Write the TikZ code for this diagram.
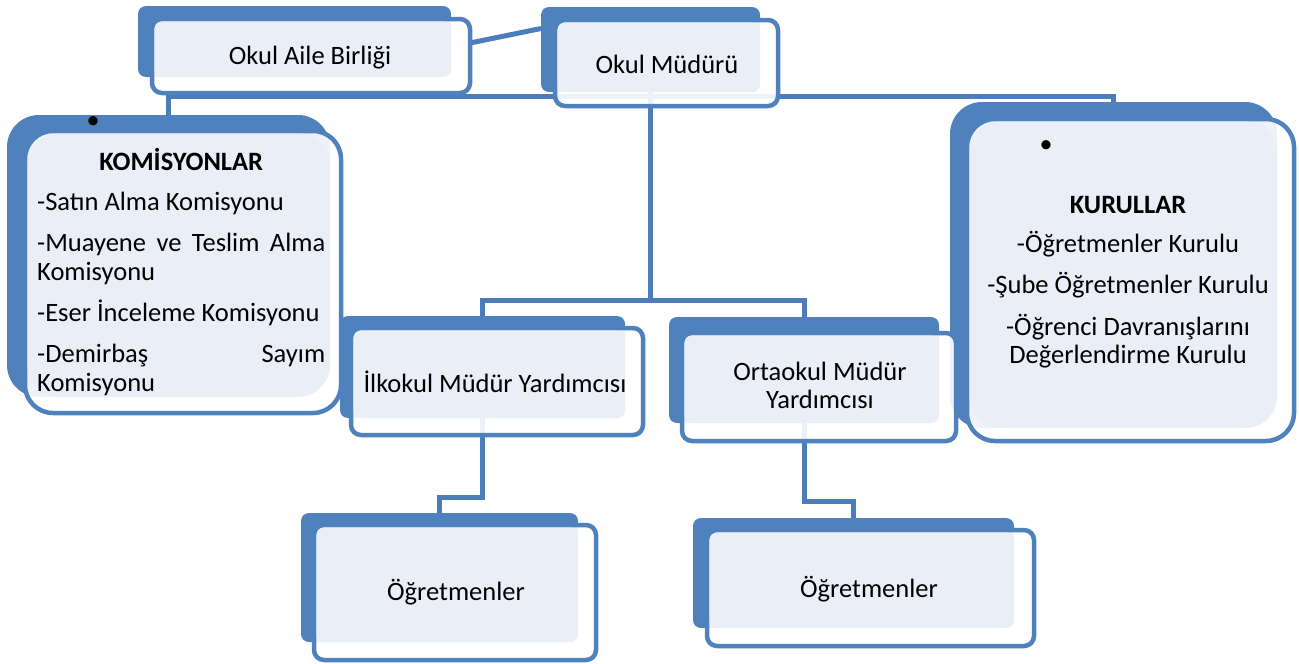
\documentclass[tikz,border=0pt]{standalone}
\usepackage{fontspec}
\setmainfont{Carlito}
\usetikzlibrary{fit,calc}
\definecolor{boxblue}{HTML}{4F81BD}
\definecolor{connblue}{HTML}{4A7DBA}
\definecolor{lightfill}{HTML}{EAEFF7}
\pgfdeclarelayer{paper}
\pgfdeclarelayer{links}
\pgfsetlayers{paper,links,main}
\tikzset{
  backbox/.style={draw=none, fill=boxblue, inner sep=0pt, outer sep=0pt},
  frontbox/.style={draw=boxblue, line width=4.5pt, fill=white, fill opacity=0.9, inner sep=0pt, outer sep=0pt},
  lightbox/.style={draw=none, fill=lightfill, inner sep=0pt, outer sep=0pt},
  conn/.style={draw=connblue, line width=5pt},
  lbl/.style={font=\fontsize{26.5}{29}\selectfont, inner sep=0pt, text=black},
  dotmark/.style={font=\fontsize{26}{26}\selectfont, inner sep=0pt, text=black},
}
\newcommand{\obox}[7]{%
  \node[backbox, rounded corners=#6, fit={#2 #3}] (#1b) {};
  \node[frontbox, rounded corners=#7, fit={#4 #5}] (#1) {};
  \node[lightbox, rounded corners=#6, fit={([shift={(2.5,2.5)}]#1.north west) (#1b.south east)}] (#1l) {};
}
\begin{document}
\begin{tikzpicture}[x=1pt,y=-1pt]
\begin{pgfonlayer}{paper}
\fill[white] (0,0) rectangle (1299,664);
\end{pgfonlayer}
\useasboundingbox (0,0) rectangle (1299,664);
\coordinate (bus) at (0,96);
\coordinate (midbus) at (0,300);
\coordinate (lowA) at (0,497);
\coordinate (lowB) at (0,501);

% boxes
\obox{aile}{(138,6)}{(451,77)}{(152,19)}{(470,93)}{8pt}{10pt}
\obox{mudur}{(541,7)}{(760,92)}{(555,20)}{(778,106)}{8pt}{10pt}
\obox{kom}{(7,115)}{(330,397)}{(25,131)}{(341,413)}{32pt}{28pt}
\obox{kur}{(950,102)}{(1277,428)}{(967,119)}{(1294,441)}{32pt}{28pt}
\obox{ilk}{(340,316)}{(625,418)}{(351,328)}{(643,435)}{8pt}{10pt}
\obox{ort}{(669,317)}{(939,423)}{(682,333)}{(956,441)}{8pt}{10pt}
\obox{ogr1}{(301,513)}{(578,642)}{(314,525)}{(596,660)}{8pt}{10pt}
\obox{ogr2}{(693,518)}{(1014,628)}{(707,530)}{(1034,646)}{8pt}{10pt}

% connectors
\begin{pgfonlayer}{links}
\draw[conn] ([yshift=13pt]aile.east) -- ([yshift=21pt]mudurb.west);
\draw[conn] (komb.north) -- (komb.north |- bus) -- (kurb.north |- bus) -- (kurb.north);
\draw[conn] (mudurb.center) -- (mudurb.center |- midbus);
\draw[conn] (ilkb.north) -- (ilkb.north |- midbus) -- (ortb.north |- midbus) -- (ortb.north);
\draw[conn] (ilkb.center) -- (ilkb.center |- lowA) -| (ogr1b.north);
\draw[conn] (ortb.center) -- (ortb.center |- lowB) -| (ogr2b.north);
\end{pgfonlayer}

% texts
\node[lbl, anchor=base] (ailet) at (310,64) {Okul Aile Birliği};
\node[lbl, anchor=base] (mudurt) at (667,73) {Okul Müdürü};
\node[lbl, anchor=base] (ilkt) at (495,392) {İlkokul Müdür Yardımcısı};
\node[lbl, anchor=base] (ortt) at (820,380) {\begin{minipage}[t]{240pt}\centering\baselineskip=28pt Ortaokul Müdür\\Yardımcısı\end{minipage}};
\node[lbl, anchor=base] (ogr1t) at (456,600) {Öğretmenler};
\node[lbl, anchor=base] (ogr2t) at (869,597) {Öğretmenler};
\node[dotmark] (komdot) at (93,123) {•};
\node[dotmark] (kurdot) at (1046,147) {•};
\node[lbl, anchor=base west] (komt) at (37,170) {\begin{minipage}[t]{288pt}\parindent=0pt\baselineskip=29pt
{\centering\bfseries KOMİSYONLAR\par}\vspace{11pt}
-Satın Alma Komisyonu\par\vspace{12pt}
\hbox to\linewidth{-Muayene\hfill ve\hfill Teslim\hfill Alma}
Komisyonu\par\vspace{12pt}
-Eser İnceleme Komisyonu\par\vspace{12pt}
\hbox to\linewidth{-Demirbaş\hfill Sayım}
Komisyonu\par
\end{minipage}};
\node[lbl, anchor=base] (kurt) at (1128,213) {\begin{minipage}[t]{320pt}\centering\baselineskip=28pt
{\bfseries KURULLAR}\par\vspace{11pt}
-Öğretmenler Kurulu\par\vspace{13pt}
-Şube Öğretmenler Kurulu\par\vspace{14pt}
-Öğrenci Davranışlarını\\Değerlendirme Kurulu\par
\end{minipage}};
\end{tikzpicture}
\end{document}
